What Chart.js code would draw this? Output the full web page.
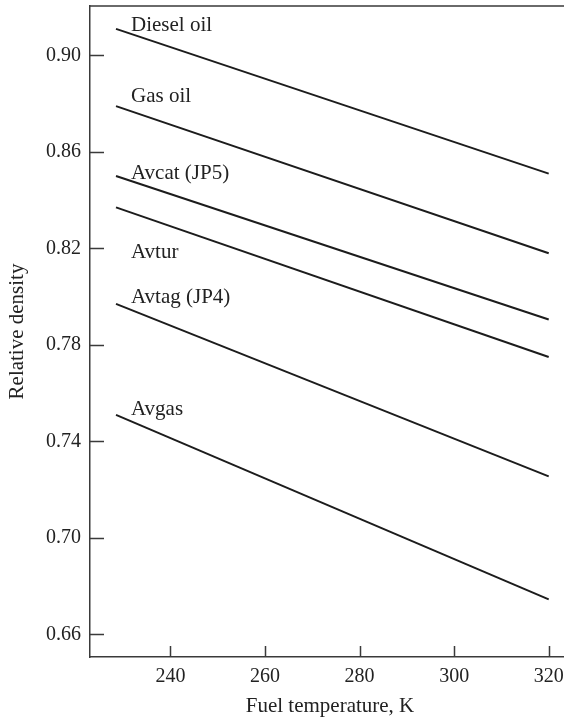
<!DOCTYPE html>
<html>
<head>
<meta charset="utf-8">
<script src="https://cdn.jsdelivr.net/npm/chart.js@4"></script>
<style>
  html, body { margin: 0; padding: 0; background: #fff; overflow: hidden; }
  #wrap { position: relative; width: 600px; height: 734px; margin-top: -15px; }
</style>
</head>
<body>
<div id="wrap"><canvas id="fuelChart" width="600" height="734"></canvas></div>
<script>
// fuel temperature (K) at the two ends of every line
const temperatures = [228.5, 320];
const fuelNames = ["Diesel oil", "Gas oil", "Avcat (JP5)", "Avtur", "Avtag (JP4)", "Avgas"];
// relative density at those two temperatures
const dieselOil = [0.911, 0.851];
const gasOil = [0.879, 0.818];
const avcat = [0.850, 0.7905];
const avtur = [0.837, 0.775];
const avtag = [0.797, 0.7255];
const avgas = [0.751, 0.6745];
const xTicks = [240, 260, 280, 300, 320];
const yTicks = [0.66, 0.70, 0.74, 0.78, 0.82, 0.86, 0.90];

const serif = "'Liberation Serif', 'DejaVu Serif', serif";
const ink = "#222";
const axisInk = "#3a3a3a";

// where each name sits, in px from the start of its line (baseline)
const nameShift = [2, -4, 3, 51, -1, 0];

const allSeries = [dieselOil, gasOil, avcat, avtur, avtag, avgas];

const datasets = allSeries.map((vals, i) => ({
    label: fuelNames[i],
    data: temperatures.map((t, j) => ({ x: t, y: vals[j] })),
    borderColor: "#1c1c1c",
    borderWidth: 2,
    pointRadius: 0,
    fill: false
}));

// top frame line, inward tick marks and the names next to the lines
const frameAndNames = {
    id: "frameAndNames",
    afterDraw(chart) {
        const { ctx, chartArea, scales } = chart;
        ctx.save();
        ctx.strokeStyle = axisInk;
        ctx.lineWidth = 1.5;
        ctx.beginPath();
        ctx.moveTo(chartArea.left, chartArea.top);
        ctx.lineTo(chartArea.right, chartArea.top);
        scales.x.ticks.forEach(t => {
            const px = Math.round(scales.x.getPixelForValue(t.value)) + 0.5;
            ctx.moveTo(px, chartArea.bottom);
            ctx.lineTo(px, chartArea.bottom - 11);
        });
        scales.y.ticks.forEach(t => {
            const py = Math.round(scales.y.getPixelForValue(t.value)) + 0.5;
            ctx.moveTo(chartArea.left, py);
            ctx.lineTo(chartArea.left + 14, py);
        });
        ctx.stroke();

        ctx.fillStyle = ink;
        ctx.font = "21px " + serif;
        ctx.textBaseline = "alphabetic";
        ctx.textAlign = "left";
        chart.data.datasets.forEach((ds, i) => {
            const p = chart.getDatasetMeta(i).data[0];
            ctx.fillText(ds.label, p.x + 15, p.y + nameShift[i]);
        });
        ctx.restore();
    }
};

new Chart(document.getElementById("fuelChart"), {
    type: "line",
    data: { datasets: datasets },
    options: {
        responsive: false,
        animation: false,
        layout: { padding: { top: 5, right: 30, bottom: 0, left: 0 } },
        plugins: {
            legend: { display: false },
            tooltip: { enabled: false }
        },
        scales: {
            x: {
                type: "linear",
                min: 223,
                max: 324.5,
                afterBuildTicks: s => { s.ticks = xTicks.map(v => ({ value: v })); },
                afterFit: s => { s.height = 62; },
                grid: { display: false, drawTicks: false },
                border: { display: true, color: axisInk, width: 1.5 },
                ticks: {
                    color: ink,
                    font: { family: serif, size: 20 },
                    padding: 8,
                    maxRotation: 0,
                    callback: v => String(v)
                },
                title: {
                    display: true,
                    text: "Fuel temperature, K",
                    color: ink,
                    font: { family: serif, size: 21 },
                    padding: { top: 4, bottom: 0 }
                }
            },
            y: {
                type: "linear",
                min: 0.6506,
                max: 0.9205,
                afterBuildTicks: s => { s.ticks = yTicks.map(v => ({ value: v })); },
                afterFit: s => { s.width = 90; },
                grid: { display: false, drawTicks: false },
                border: { display: true, color: axisInk, width: 1.5 },
                ticks: {
                    color: ink,
                    font: { family: serif, size: 20 },
                    padding: 9,
                    callback: v => v.toFixed(2)
                },
                title: {
                    display: true,
                    text: "Relative density",
                    color: ink,
                    font: { family: serif, size: 21 },
                    padding: { top: 5, bottom: 0 }
                }
            }
        }
    },
    plugins: [frameAndNames]
});
</script>
</body>
</html>
